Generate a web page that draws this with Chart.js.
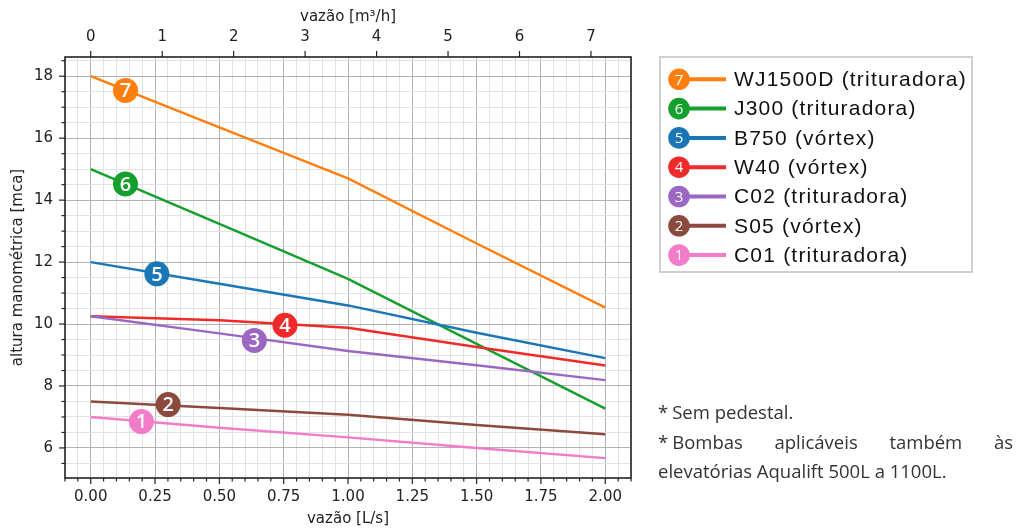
<!DOCTYPE html>
<html>
<head>
<meta charset="utf-8">
<script src="https://cdn.jsdelivr.net/npm/chart.js@4"></script>
<style>
  body { margin: 0; background: #fff; }
  #wrap { position: relative; width: 1018px; height: 532px; }
  .note { position: absolute; left: 658px; width: 355px; font-family: "Open Sans", sans-serif;
          font-size: 18.5px; color: #333; line-height: 29px; }
  .ast { display: inline-block; margin-right: 4px; }
</style>
</head>
<body>
<div id="wrap">
  <canvas id="pumpChart" width="1018" height="532"></canvas>
  <div class="note" style="top:397px"><span class="ast">*</span>Sem pedestal.</div>
  <div class="note" style="top:427px;text-align:justify"><span class="ast">*</span>Bombas aplicáveis também às elevatórias Aqualift 500L a 1100L.</div>
</div>
<script>
// vazão [L/s] where the curves were read
const flowLs = [0, 0.5, 1.0, 1.5, 2.0];

// altura manométrica [mca], pump 1 .. 7
const headC01 = [7.0, 6.65, 6.34, 6.0, 5.67];
const headS05 = [7.5, 7.29, 7.07, 6.74, 6.44];
const headC02 = [10.25, 9.7, 9.13, 8.67, 8.19];
const headW40 = [10.25, 10.12, 9.88, 9.26, 8.66];
const headB750 = [12.0, 11.3, 10.6, 9.72, 8.9];
const headJ300 = [15.0, 13.23, 11.46, 9.36, 7.27];
const headWJ1500D = [18.0, 16.35, 14.7, 12.6, 10.53];

const pumpNames = ["C01 (trituradora)", "S05 (vórtex)", "C02 (trituradora)", "W40 (vórtex)",
                   "B750 (vórtex)", "J300 (trituradora)", "WJ1500D (trituradora)"];
const pumpNumbers = ["1", "2", "3", "4", "5", "6", "7"];
const pumpColors = ["#f27cc8", "#8c4a3e", "#9b67c3", "#ee2a2a", "#1a76b5", "#14a02c", "#ff7f0e"];

// numbered badges on the curves
const markerFlow = [0.197, 0.301, 0.636, 0.755, 0.257, 0.135, 0.135];
const markerHead = [6.85, 7.40, 9.47, 9.96, 11.62, 14.52, 17.54];

// labelled ticks
const xTickLabels = [0, 0.25, 0.5, 0.75, 1.0, 1.25, 1.5, 1.75, 2.0];
const yTickLabels = [6, 8, 10, 12, 14, 16, 18];
const topTickLabels = [0, 1, 2, 3, 4, 5, 6, 7];
const m3hPerLs = 3.6;

const allHeads = [headC01, headS05, headC02, headW40, headB750, headJ300, headWJ1500D];

const near = (v, list) => list.some(t => Math.abs(t - v) < 1e-6);

Chart.defaults.font.family = "'DejaVu Sans', sans-serif";
Chart.defaults.font.size = 15;
Chart.defaults.color = "#222";

const frameAndTicks = {
    id: "frameAndTicks",
    afterDatasetsDraw(chart) {
        const { ctx, chartArea: a } = chart;
        ctx.save();
        ctx.strokeStyle = "#222";
        ctx.lineWidth = 1.2;
        const drawTicks = (scale, labels, horizontal, top) => {
            scale.ticks.forEach(t => {
                const p = scale.getPixelForValue(t.value);
                const len = near(t.value, labels) ? 6 : 3.5;
                ctx.beginPath();
                if (horizontal) {
                    const y0 = top ? a.top : a.bottom;
                    ctx.moveTo(p, y0);
                    ctx.lineTo(p, top ? y0 - len : y0 + len);
                } else {
                    ctx.moveTo(a.left, p);
                    ctx.lineTo(a.left - len, p);
                }
                ctx.stroke();
            });
        };
        drawTicks(chart.scales.x, xTickLabels, true, false);
        drawTicks(chart.scales.x2, topTickLabels, true, true);
        drawTicks(chart.scales.y, yTickLabels, false, false);
        ctx.lineWidth = 1.6;
        ctx.strokeRect(a.left, a.top, a.right - a.left, a.bottom - a.top);

        // numbered badges
        const xs = chart.scales.x, ys = chart.scales.y;
        markerFlow.forEach((f, i) => {
            const px = xs.getPixelForValue(f), py = ys.getPixelForValue(markerHead[i]);
            ctx.beginPath();
            ctx.arc(px, py, 12.5, 0, Math.PI * 2);
            ctx.fillStyle = pumpColors[i];
            ctx.fill();
            ctx.fillStyle = "#fff";
            ctx.font = "600 20px 'Open Sans'";
            ctx.textAlign = "center";
            ctx.textBaseline = "middle";
            ctx.fillText(pumpNumbers[i], px, py + 1);
        });
        ctx.restore();
    }
};

const legendBox = {
    id: "legendBox",
    afterDraw(chart) {
        const ctx = chart.ctx;
        ctx.save();
        ctx.strokeStyle = "#cfcfcf";
        ctx.lineWidth = 2;
        ctx.strokeRect(660, 57, 312, 215);
        for (let row = 0; row < pumpNames.length; row++) {
            const i = pumpNames.length - 1 - row;
            const y = 79.3 + row * 29.3;
            ctx.strokeStyle = pumpColors[i];
            ctx.lineWidth = 4;
            ctx.beginPath();
            ctx.moveTo(679, y);
            ctx.lineTo(726, y);
            ctx.stroke();
            ctx.beginPath();
            ctx.arc(679, y, 10.8, 0, Math.PI * 2);
            ctx.fillStyle = pumpColors[i];
            ctx.fill();
            ctx.fillStyle = "#fff";
            ctx.font = "15px 'Open Sans'";
            ctx.textAlign = "center";
            ctx.textBaseline = "middle";
            ctx.fillText(pumpNumbers[i], 679, y + 1);
            ctx.fillStyle = "#111";
            ctx.font = "21px 'Liberation Sans'";
            ctx.textAlign = "left";
            ctx.letterSpacing = "1.2px";
            ctx.fillText(pumpNames[i], 734, y + 1);
            ctx.letterSpacing = "0px";
        }
        ctx.restore();
    }
};

const datasets = allHeads.map((h, i) => ({
    label: pumpNames[i],
    data: flowLs.map((f, j) => ({ x: f, y: h[j] })),
    borderColor: pumpColors[i],
    borderWidth: 2.4,
    pointRadius: 0,
    tension: 0,
    xAxisID: "x",
    yAxisID: "y"
}));

new Chart(document.getElementById("pumpChart"), {
    type: "line",
    data: { datasets: datasets },
    options: {
        responsive: false,
        animation: false,
        layout: { padding: { left: 0, right: 387, top: 0, bottom: 0 } },
        plugins: { legend: { display: false }, tooltip: { enabled: false } },
        scales: {
            x: {
                type: "linear",
                position: "bottom",
                min: -0.1,
                max: 2.1,
                afterFit: s => { s.height = 54; },
                border: { display: false },
                grid: {
                    drawTicks: false,
                    lineWidth: 1,
                    color: c => near(c.tick.value, xTickLabels) ? "#b3b3b3" : "#e2e2e2"
                },
                ticks: {
                    stepSize: 0.05,
                    autoSkip: false,
                    includeBounds: false,
                    maxRotation: 0,
                    padding: 10,
                    callback: v => near(v, xTickLabels) ? v.toFixed(2) : ""
                },
                title: { display: true, text: "vazão [L/s]", padding: { bottom: 4 } }
            },
            x2: {
                type: "linear",
                position: "top",
                min: -0.1 * m3hPerLs,
                max: 2.1 * m3hPerLs,
                afterFit: s => { s.height = 57; },
                border: { display: false },
                grid: { drawOnChartArea: false, drawTicks: false },
                ticks: {
                    stepSize: 1,
                    includeBounds: false,
                    maxRotation: 0,
                    padding: 11,
                    callback: v => near(v, topTickLabels) ? String(v) : ""
                },
                title: { display: true, text: "vazão [m³/h]", padding: { top: 8 } }
            },
            y: {
                type: "linear",
                position: "left",
                min: 5.03,
                max: 18.62,
                afterFit: s => { s.width = 65; },
                border: { display: false },
                grid: {
                    drawTicks: false,
                    color: c => near(c.tick.value, yTickLabels) ? "#b3b3b3" : "#e2e2e2"
                },
                ticks: {
                    stepSize: 0.5,
                    autoSkip: false,
                    includeBounds: false,
                    padding: 12,
                    callback: v => near(v, yTickLabels) ? String(v) : ""
                },
                title: { display: true, text: "altura manométrica [mca]", padding: { top: 9 } }
            }
        }
    },
    plugins: [frameAndTicks, legendBox]
});
</script>
</body>
</html>
